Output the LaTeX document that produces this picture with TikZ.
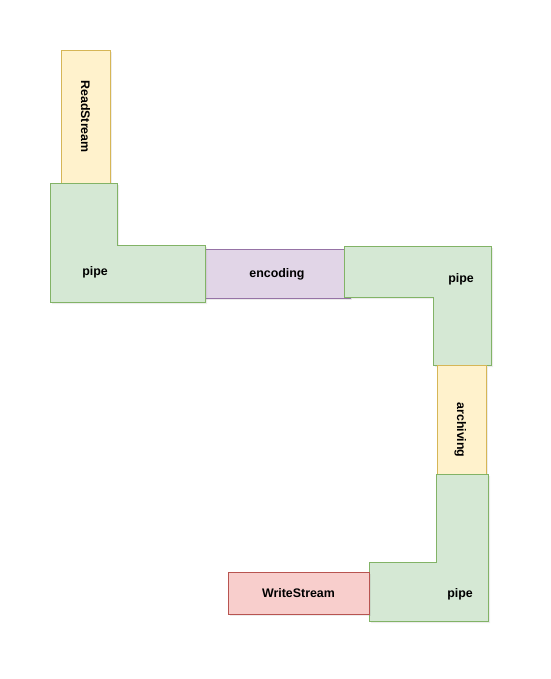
\documentclass[tikz,border=0pt]{standalone}
\usepackage{fontspec}
\setmainfont{Liberation Sans}
\usetikzlibrary{shadows}
\definecolor{pipefill}{HTML}{D5E8D4}
\definecolor{pipeline}{HTML}{82B366}
\definecolor{streamfill}{HTML}{FFF2CC}
\definecolor{streamline}{HTML}{D6B656}
\definecolor{encfill}{HTML}{E1D5E7}
\definecolor{encline}{HTML}{9673A6}
\definecolor{writefill}{HTML}{F8CECC}
\definecolor{writeline}{HTML}{B85450}
\begin{document}
\begin{tikzpicture}[x=1pt,y=-1pt,
	every node/.style={font=\bfseries\fontsize{12.4}{14}\selectfont,inner sep=0pt,text depth=0pt},
	part/.style={line width=0.6pt,drop shadow={shadow xshift=2pt,shadow yshift=-2pt,opacity=0.15}},
	pipe/.style={part,draw=pipeline,fill=pipefill},
	yellowbox/.style={part,draw=streamline,fill=streamfill},
	purplebox/.style={part,draw=encline,fill=encfill},
	redbox/.style={part,draw=writeline,fill=writefill}]
	\useasboundingbox (0,0) rectangle (550,679);
	\node[purplebox,minimum width=146pt,minimum height=49pt] (encoding) at (277,273.5) {encoding};
	\node[yellowbox,minimum width=133pt,minimum height=49pt,rotate=-90] (readstream) at (85.5,116.5) {ReadStream};
	\filldraw[pipe] (50,183) -- (117,183) -- (117,245) -- (205,245) -- (205,302) -- (50,302) -- cycle;
	\node (pipe1) at (95,271) {pipe};
	\filldraw[pipe] (344,246) -- (491,246) -- (491,365) -- (433,365) -- (433,297) -- (344,297) -- cycle;
	\node (pipe2) at (461,278) {pipe};
	\node[yellowbox,minimum width=130pt,minimum height=49pt,rotate=-90] (archiving) at (461.5,430) {archiving};
	\filldraw[pipe] (436,474) -- (488,474) -- (488,621) -- (369,621) -- (369,562) -- (436,562) -- cycle;
	\node (pipe3) at (460,593) {pipe};
	\node[redbox,minimum width=141pt,minimum height=42pt] (writestream) at (298.5,593) {WriteStream};
\end{tikzpicture}
\end{document}
